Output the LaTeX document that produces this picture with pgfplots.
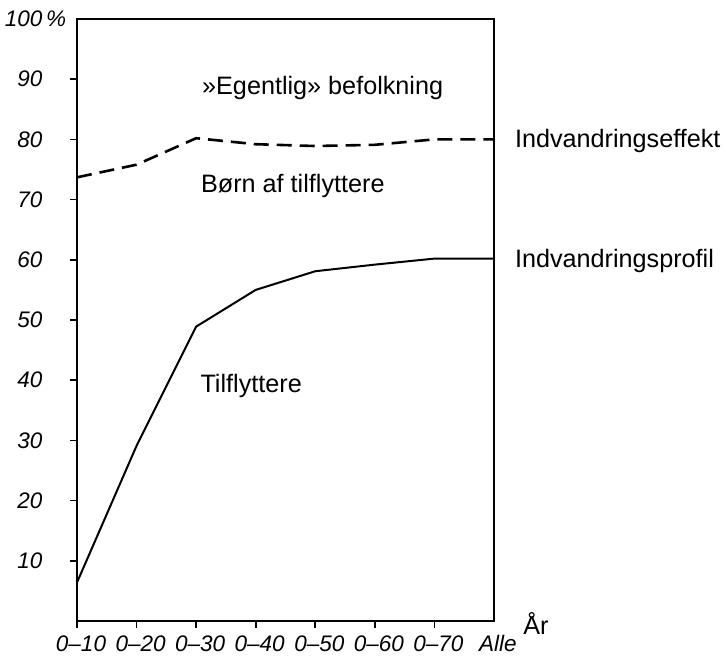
\documentclass[border=0pt]{standalone}
\usepackage{fontspec}
\setmainfont{Liberation Sans}
\usepackage{pgfplots}
\pgfplotsset{compat=1.18}
\begin{document}
\begin{tikzpicture}
\path[use as bounding box] (-77pt,-36pt) rectangle (649pt,621pt);
\begin{axis}[
 at={(0pt,0pt)}, anchor=south west,
 scale only axis, width=417pt, height=602pt,
 xmin=0, xmax=7, ymin=0, ymax=100,
 axis line style={line width=1.6pt},
 tick style={line width=1.6pt, black},
 tick align=outside, major tick length=7pt,
 xtick={0,...,6}, xticklabels={0--10,0--20,0--30,0--40,0--50,0--60,0--70},
 extra x ticks={7}, extra x tick labels={Alle}, extra x tick style={major tick style={draw=none}},
 ytick={10,20,...,90}, yticklabels={10,20,30,40,50,60,70,80,90},
 extra y ticks={100}, extra y tick labels={100\rlap{\,\%}}, extra y tick style={major tick style={draw=none}},
 xtick pos=bottom, ytick pos=left,
 ticklabel style={font=\fontsize{22.5}{26}\selectfont\itshape},
 xticklabel style={yshift=-4pt, xshift=4pt},
 yticklabel style={xshift=-24pt},
 clip=false,
]
\addplot[black, line width=2.6pt, dash pattern=on 15pt off 8pt] coordinates {(0,73.7)(1,75.8)(2,80.2)(3,79.2)(4,78.9)(5,79.1)(6,80.0)(7,80.0)};
\addplot[black, line width=2pt] coordinates {(0,6.4)(1,29.1)(2,48.9)(3,55.0)(4,58.1)(5,59.2)(6,60.2)(7,60.2)};
\begin{scope}[every node/.style={anchor=base west, inner sep=0pt, font=\fontsize{25.2}{30}\selectfont}]
\node at (axis cs:2.098,87.4) {»Egentlig» befolkning};
\node at (axis cs:2.08,71.1) {Børn af tilflyttere};
\node at (axis cs:2.07,38.0) {Tilflyttere};
\node at (axis cs:7.35,78.6) {Indvandringseffekt};
\node at (axis cs:7.35,58.8) {Indvandringsprofil};
\node at (axis cs:7.49,-2.3) {År};
\end{scope}
\end{axis}
\end{tikzpicture}
\end{document}
